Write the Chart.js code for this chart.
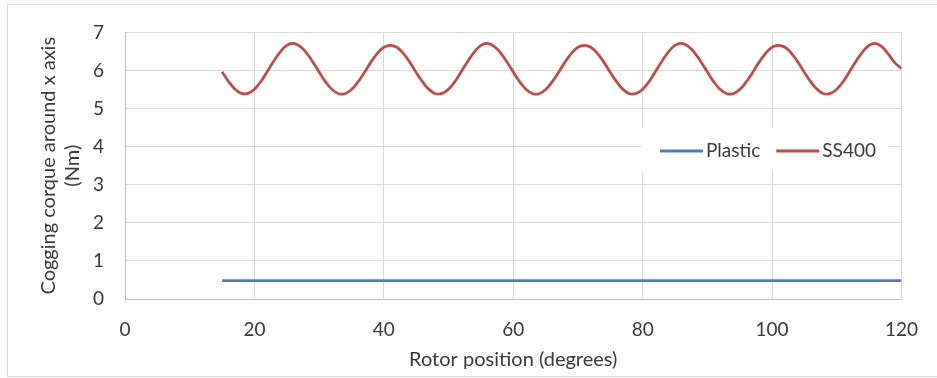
<!DOCTYPE html>
<html>
<head>
<meta charset="utf-8">
<script src="https://cdn.jsdelivr.net/npm/chart.js@4"></script>
<style>
  html, body { margin: 0; padding: 0; background: #fff; }
  #wrap { width: 937px; height: 378px; position: relative; }
</style>
</head>
<body>
<div id="wrap"><canvas id="cogging" width="937" height="378"></canvas></div>
<script>
// rotor position (degrees) and cogging torque (Nm)
const positionsSS400 = [
  15, 16, 17, 18, 19, 20, 21, 22, 23, 24, 25, 26, 27, 28, 29, 30, 31, 32, 33, 34,
  35, 36, 37, 38, 39, 40, 41, 42, 43, 44, 45, 46, 47, 48, 49, 50, 51, 52, 53, 54,
  55, 56, 57, 58, 59, 60, 61, 62, 63, 64, 65, 66, 67, 68, 69, 70, 71, 72, 73, 74,
  75, 76, 77, 78, 79, 80, 81, 82, 83, 84, 85, 86, 87, 88, 89, 90, 91, 92, 93, 94,
  95, 96, 97, 98, 99, 100, 101, 102, 103, 104, 105, 106, 107, 108, 109, 110, 111, 112, 113, 114,
  115, 116, 117, 118, 119, 120
];
const torqueSS400 = [
  5.97, 5.71, 5.51, 5.40, 5.40, 5.51, 5.71, 5.98, 6.25, 6.49, 6.66, 6.71, 6.64, 6.47, 6.23, 5.96, 5.70, 5.50, 5.39, 5.39,
  5.50, 5.70, 5.95, 6.22, 6.45, 6.61, 6.66, 6.61, 6.45, 6.22, 5.95, 5.70, 5.50, 5.39, 5.40, 5.51, 5.71, 5.98, 6.25, 6.49,
  6.66, 6.71, 6.64, 6.47, 6.23, 5.96, 5.70, 5.50, 5.39, 5.39, 5.50, 5.70, 5.95, 6.22, 6.45, 6.61, 6.66, 6.61, 6.45, 6.22,
  5.95, 5.70, 5.50, 5.39, 5.40, 5.51, 5.71, 5.98, 6.25, 6.49, 6.66, 6.71, 6.64, 6.47, 6.23, 5.96, 5.70, 5.50, 5.39, 5.39,
  5.50, 5.70, 5.95, 6.22, 6.45, 6.61, 6.66, 6.61, 6.45, 6.22, 5.95, 5.70, 5.50, 5.39, 5.40, 5.51, 5.71, 5.98, 6.25, 6.49,
  6.66, 6.71, 6.62, 6.42, 6.20, 6.05
];
const positionsPlastic = [15, 20, 25, 30, 35, 40, 45, 50, 55, 60, 65, 70, 75, 80, 85, 90, 95, 100, 105, 110, 115, 120];
const torquePlastic = [0.48, 0.48, 0.48, 0.48, 0.48, 0.48, 0.48, 0.48, 0.48, 0.48, 0.48, 0.48, 0.48, 0.48, 0.48, 0.48, 0.48, 0.48, 0.48, 0.48, 0.48, 0.48];
const seriesNames = ['Plastic', 'SS400'];
const seriesColors = ['#4a7ebb', '#be4b48'];

const FONT = 'Lato';
const TEXT = '#3a3a3a';

// outer frame like the office chart object
const framePlugin = {
    id: 'frame',
    beforeDraw(chart) {
        const ctx = chart.ctx;
        ctx.save();
        ctx.fillStyle = '#fff';
        ctx.fillRect(0, 0, chart.width, chart.height);
        ctx.strokeStyle = '#d9d9d9';
        ctx.lineWidth = 1;
        ctx.strokeRect(7.5, 4.5, 940, 372);
        ctx.restore();
    }
};

// legend sits inside the plot area, over the gridlines
const insideLegend = {
    id: 'insideLegend',
    afterDatasetsDraw(chart) {
        const ctx = chart.ctx;
        ctx.save();
        ctx.fillStyle = '#fff';
        ctx.fillRect(641, 128, 248, 44);
        ctx.font = '19px ' + FONT;
        ctx.textBaseline = 'middle';
        let x = 660;
        const y = 151;
        chart.data.datasets.forEach(ds => {
            ctx.strokeStyle = ds.borderColor;
            ctx.lineWidth = 3;
            ctx.beginPath();
            ctx.moveTo(x, y);
            ctx.lineTo(x + 43, y);
            ctx.stroke();
            x += 46;
            ctx.fillStyle = TEXT;
            ctx.fillText(ds.label, x, y);
            x += ctx.measureText(ds.label).width + 16;
        });
        ctx.restore();
    }
};

const data = {
    datasets: [
        {
            label: seriesNames[0],
            data: positionsPlastic.map((p, i) => ({ x: p, y: torquePlastic[i] })),
            borderColor: seriesColors[0],
            borderWidth: 2.75,
            pointRadius: 0,
            tension: 0.4
        },
        {
            label: seriesNames[1],
            data: positionsSS400.map((p, i) => ({ x: p, y: torqueSS400[i] })),
            borderColor: seriesColors[1],
            borderWidth: 2.75,
            pointRadius: 0,
            tension: 0.4
        }
    ]
};

const config = {
    type: 'line',
    data: data,
    options: {
        responsive: false,
        animation: false,
        layout: { padding: { top: 27, right: 30, left: 0, bottom: 0 } },
        plugins: {
            legend: { display: false },
            tooltip: { enabled: false }
        },
        scales: {
            x: {
                type: 'linear',
                min: 0,
                max: 120,
                afterFit: scale => { scale.height = 79; },
                grid: { color: '#d9d9d9', drawTicks: false },
                border: { color: '#bfbfbf' },
                ticks: {
                    stepSize: 20,
                    padding: 19,
                    color: TEXT,
                    font: { family: FONT, size: 19 }
                },
                title: {
                    display: true,
                    text: 'Rotor position (degrees)',
                    color: TEXT,
                    padding: { top: 0, bottom: 6 },
                    font: { family: FONT, size: 20 }
                }
            },
            y: {
                min: 0,
                max: 7,
                afterFit: scale => { scale.width = 125; },
                grid: { color: '#d9d9d9', drawTicks: false },
                border: { color: '#bfbfbf' },
                ticks: {
                    stepSize: 1,
                    padding: 21,
                    color: TEXT,
                    font: { family: FONT, size: 19 }
                },
                title: {
                    display: true,
                    text: ['Cogging corque around x axis', '(Nm)'],
                    color: TEXT,
                    padding: { top: 37, bottom: 0 },
                    font: { family: FONT, size: 20, lineHeight: 1.2 }
                }
            }
        }
    },
    plugins: [framePlugin, insideLegend]
};

new Chart(document.getElementById('cogging').getContext('2d'), config);
</script>
</body>
</html>
